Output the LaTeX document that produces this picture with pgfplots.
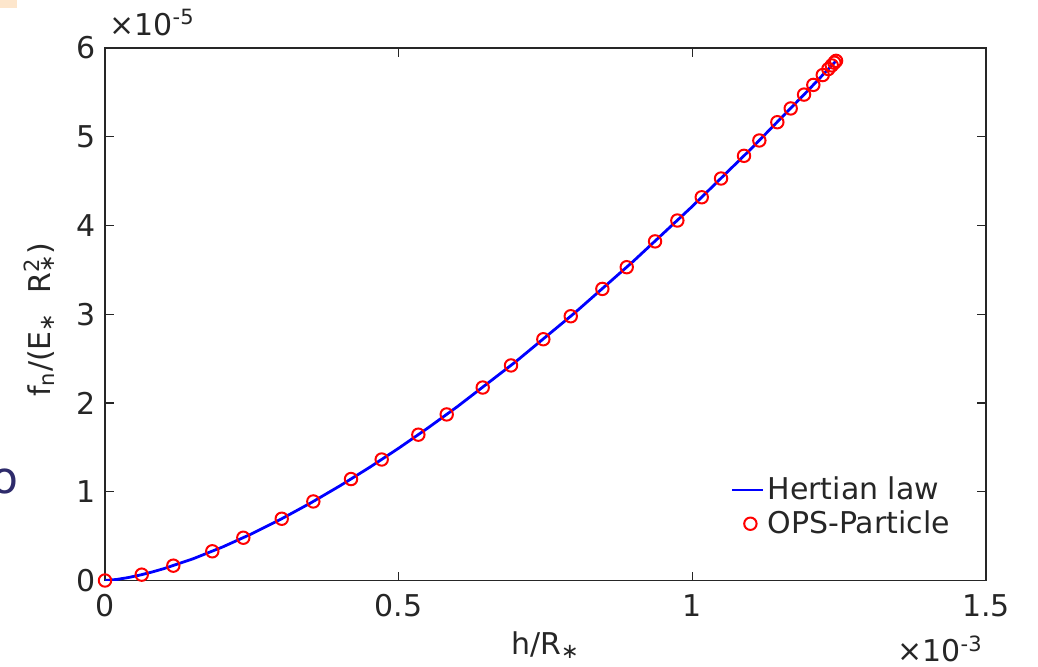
\documentclass[border=0pt]{standalone}
\usepackage{pgfplots}
\pgfplotsset{compat=1.18}
\usepackage{fontspec}
\setmainfont{DejaVu Sans}
\definecolor{axgray}{HTML}{262626}
\definecolor{navyo}{HTML}{2E2B6B}
\definecolor{lorange}{HTML}{FDE6CC}
\newcommand{\fs}{\fontsize{15}{18}\selectfont}
\pgfplotsset{
  lineleg/.style={legend image code/.code={\draw[##1, line width=1.1pt] (0cm,0cm) -- (0.55cm,0cm);}},
  markleg/.style={legend image code/.code={\draw[##1] plot coordinates {(0.32cm,0cm)};}},
}
\begin{document}
\begin{tikzpicture}
\begin{axis}[
  scale only axis,
  width=440.5pt, height=266.25pt,
  xmin=0, xmax=1.5, ymin=0, ymax=6,
  xtick={0,0.5,1,1.5}, xticklabels={0,0.5,1,1.5},
  ytick={0,1,2,3,4,5,6}, yticklabels={0,1,2,3,4,5,6},
  tick align=inside, major tick length=4.5pt,
  xtick pos=both, ytick pos=both,
  axis line style={axgray, line width=0.7pt},
  tick style={axgray, line width=0.7pt},
  tick label style={font=\fs, text=axgray},
  xticklabel style={yshift=-3.5pt},
  yticklabel style={xshift=-1pt},
  label style={font=\fs, text=axgray},
  xlabel={h/R\textsubscript{∗}},
  xlabel style={at={(axis description cs:0.5,0)}, anchor=base, yshift=-37pt},
  ylabel={f\textsubscript{n}/(E\textsubscript{∗}~ R\rlap{\textsuperscript{2}}\textsubscript{∗})},
  ylabel style={at={(axis description cs:-0.0624,0.49)}, anchor=base},
  legend style={draw=none, fill=none, font=\fs, text=axgray,
    at={(axis description cs:0.963,0.076)}, anchor=south east,
    inner sep=0pt, row sep=1pt,
    nodes={inner sep=1.5pt}},
  legend cell align=left,
]
\addplot[blue, line width=1.4pt, lineleg] coordinates {
 (0,0) (0.02,0.01193) (0.04,0.03373) (0.06,0.06197) (0.08,0.09541)
 (0.1,0.13333) (0.15,0.24495) (0.2,0.37713) (0.25,0.52705) (0.3,0.69284)
 (0.35,0.87306) (0.4,1.0667) (0.45,1.2728) (0.5,1.4907) (0.55,1.7198) (0.6,1.9596)
 (0.7,2.4694) (0.8,3.0170) (0.9,3.6000) (1.0,4.2164) (1.1,4.8644)
 (1.2,5.5426) (1.2447,5.8553)
};
\addlegendentry{Hertian law}
\addplot[only marks, mark=o, mark size=3.1pt, red, mark options={line width=1pt}, markleg] coordinates {
 (0,0) (0.0625,0.0659) (0.1163,0.1672) (0.1827,0.3293) (0.2355,0.4819)
 (0.3009,0.6959) (0.3547,0.8908) (0.4189,1.1432) (0.4711,1.3634)
 (0.5335,1.6430) (0.5818,1.8713) (0.6431,2.1744) (0.6913,2.4234)
 (0.7463,2.7185) (0.7930,2.9775) (0.8468,3.2855) (0.8883,3.5301)
 (0.9365,3.8212) (0.9745,4.0563) (1.0160,4.3182) (1.0489,4.5296)
 (1.0880,4.7852) (1.1141,4.9582) (1.1447,5.1639) (1.1675,5.3189)
 (1.1902,5.4751) (1.2060,5.5844) (1.2220,5.6955) (1.2316,5.7631)
 (1.2374,5.8038) (1.2418,5.8349) (1.2447,5.8553)
};
\addlegendentry{OPS-Particle}
\end{axis}
\node[font=\fs, text=axgray, anchor=south west, inner sep=0pt] at ([shift={(2pt,6pt)}]current axis.north west) {×10\textsuperscript{-5}};
\node[font=\fs, text=axgray, anchor=base east, inner sep=0pt] at ([shift={(-1.5pt,-40.5pt)}]current axis.south east) {×10\textsuperscript{-3}};
\pgfresetboundingbox
\path[use as bounding box] (current axis.south west) ++(-52.5pt,-42.75pt) rectangle ++(519pt,333pt);
\fill[lorange] (current axis.south west) ++(-52.5pt,290.25pt) rectangle ++(8.5pt,-4pt);
\node[text=navyo, font=\fontsize{22}{24}\selectfont, inner sep=0pt] at ([shift={(-50pt,49.5pt)}]current axis.south west) {o};
\end{tikzpicture}
\end{document}
